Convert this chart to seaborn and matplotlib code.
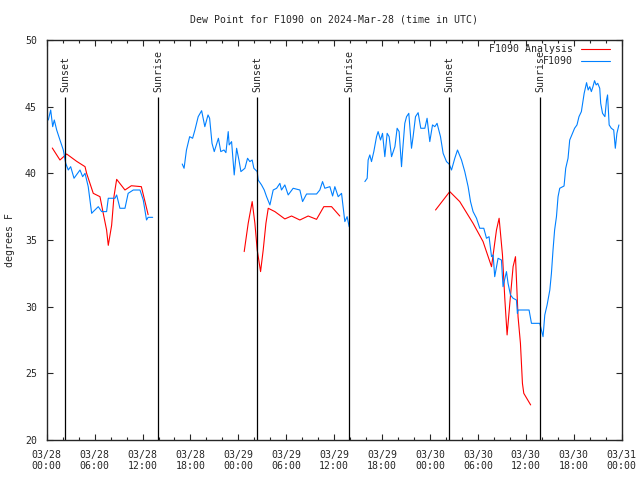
import matplotlib
matplotlib.use('Agg')
import matplotlib.pyplot as plt
import pandas as pd
import seaborn as sns
from matplotlib.lines import Line2D
from matplotlib.ticker import MultipleLocator

# hours since 2024-03-28 00:00 UTC
obs_h1 = [0.2, 0.5, 0.75, 0.95, 1.25, 1.66, 2.08, 2.38, 2.7, 3.0, 3.42, 4.17, 4.5, 4.8, 5.2,
          5.63, 5.83, 6.46, 6.88, 7.5, 7.71, 8.55, 8.76, 9.17, 9.8, 10.2, 10.84, 11.68, 12.09,
          12.5, 12.7, 13.27]
obs_v1 = [44.0, 44.75, 43.5, 44.0, 43.25, 42.5, 41.75, 40.75, 40.25, 40.5, 39.63, 40.25, 39.75,
          40.0, 39.0, 37.0, 37.13, 37.5, 37.13, 37.13, 38.13, 38.13, 38.38, 37.38, 37.38, 38.5,
          38.75, 38.75, 38.0, 36.5, 36.7, 36.7]

obs_h2 = [16.97, 17.2, 17.5, 17.9, 18.27, 18.56, 18.97, 19.4, 19.8, 20.2, 20.4, 20.7, 20.98, 21.5,
          21.8, 22.2, 22.44, 22.73, 22.85, 23.15, 23.48, 23.78, 24.07, 24.32, 24.82, 25.15, 25.44,
          25.73, 25.94, 26.36, 26.48, 26.9, 27.24, 27.53, 27.95, 28.36, 28.79, 29.2, 29.4, 29.82,
          30.24, 30.86, 31.7, 32.04, 32.54, 33.79, 34.2, 34.54, 34.83, 35.46, 35.8, 36.08, 36.5,
          36.92, 37.33, 37.62, 37.87]
obs_v2 = [40.7, 40.38, 41.75, 42.75, 42.63, 43.25, 44.25, 44.7, 43.5, 44.38, 44.13, 42.25, 41.63,
          42.63, 41.63, 41.75, 41.55, 43.13, 42.13, 42.38, 39.88, 41.88, 41.0, 40.13, 40.38, 41.13,
          40.88, 41.0, 40.38, 40.13, 39.5, 39.13, 38.75, 38.25, 37.63, 38.75, 38.88, 39.25, 38.75,
          39.13, 38.38, 38.88, 38.75, 37.88, 38.45, 38.45, 38.75, 39.38, 38.88, 39.0, 38.3, 39.0,
          38.25, 38.5, 36.38, 36.75, 36.0]

obs_h3 = [39.84, 40.13, 40.25, 40.46, 40.67, 40.96, 41.3, 41.5, 41.8, 42.05, 42.34, 42.63, 42.88,
          43.18, 43.6, 43.88, 44.13, 44.43, 44.56, 44.84, 45.06, 45.34, 45.68, 45.88, 46.18, 46.51,
          46.84, 47.35, 47.63, 47.97, 48.31, 48.6, 48.88, 49.31, 49.64, 50.06, 50.39, 50.69, 51.1,
          51.44, 51.94, 52.35, 52.77, 53.07, 53.39, 53.82, 54.23, 54.73, 55.07, 55.39, 55.7, 55.9,
          56.1, 56.52, 56.94, 57.14, 57.57, 57.77, 58.07, 58.4, 58.82, 58.94, 59.02, 60.4, 60.7,
          61.74, 62.15, 62.37, 62.66, 63.0, 63.2, 63.4, 63.6, 63.83, 64.03, 64.24, 64.78, 64.99,
          65.28, 65.49, 65.7, 66.1, 66.4, 66.65, 66.95, 67.3, 67.6, 67.8, 68.0, 68.2, 68.4, 68.6,
          68.8, 69.0, 69.25, 69.37, 69.6, 69.9, 70.1, 70.23, 70.43, 70.7, 71.0, 71.2, 71.4, 71.65]
obs_v3 = [39.38, 39.63, 41.0, 41.38, 40.88, 41.63, 42.75, 43.13, 42.5, 43.0, 41.25, 43.0, 42.75,
          41.25, 42.0, 43.38, 43.13, 40.5, 41.63, 43.75, 44.25, 44.5, 41.88, 42.75, 44.25, 44.55,
          43.38, 43.38, 44.13, 42.38, 43.63, 43.5, 43.75, 42.75, 41.5, 40.88, 40.7, 40.25, 41.13,
          41.75, 41.0, 40.13, 39.0, 37.88, 37.13, 36.63, 35.88, 35.88, 35.13, 35.25, 33.75, 33.88,
          32.25, 33.63, 33.5, 31.5, 32.63, 31.75, 30.88, 30.63, 30.5, 29.5, 29.75, 29.75, 28.75,
          28.75, 27.75, 29.38, 30.13, 31.25, 32.5, 34.25, 35.75, 36.75, 38.25, 38.88, 39.05, 40.38,
          41.13, 42.5, 42.8, 43.38, 43.63, 44.25, 44.63, 46.0, 46.8, 46.25, 46.5, 46.13, 46.5, 46.95,
          46.63, 46.75, 46.38, 45.25, 44.5, 44.25, 45.5, 45.88, 43.63, 43.38, 43.25, 41.88, 43.0,
          43.63]

ana_h1 = [0.7, 1.66, 2.5, 3.75, 4.8, 5.0, 5.83, 6.67, 7.08, 7.5, 7.71, 8.13, 8.42, 8.76, 9.8,
          10.6, 11.85, 12.3, 12.7]
ana_v1 = [41.9, 41.0, 41.45, 40.9, 40.5, 40.0, 38.5, 38.25, 37.0, 35.75, 34.6, 36.1, 38.25, 39.55,
          38.75, 39.07, 39.0, 37.9, 36.9]

ana_h2 = [24.73, 25.23, 25.73, 26.07, 26.36, 26.78, 27.11, 27.45, 27.74, 28.57, 29.82, 30.66, 31.7,
          32.74, 33.79, 34.7, 35.67, 36.7]
ana_v2 = [34.13, 36.25, 37.88, 36.25, 34.25, 32.63, 34.25, 36.25, 37.38, 37.13, 36.58, 36.8, 36.5,
          36.8, 36.55, 37.5, 37.5, 36.8]

ana_h3 = [48.69, 50.47, 51.72, 53.39, 54.64, 55.7, 56.32, 56.65, 57.07, 57.36, 57.65, 57.99, 58.4,
          58.7, 59.02, 59.32, 59.57, 59.74, 60.6]
ana_v3 = [37.25, 38.63, 37.88, 36.25, 34.88, 33.0, 35.75, 36.63, 33.88, 30.63, 27.88, 30.25, 33.0,
          33.75, 29.25, 27.25, 24.25, 23.5, 22.63]

sun_h = [2.29, 13.93, 26.36, 37.87, 50.4, 61.77]
sun_lbl = ['Sunset', 'Sunrise', 'Sunset', 'Sunrise', 'Sunset', 'Sunrise']

RED = '#ff0000'
BLUE = '#0080ff'
FS = 7.1


def frame(hs, vs):
    rows = []
    for i, (h, v) in enumerate(zip(hs, vs)):
        for a, b in zip(h, v):
            rows.append({'h': a, 'v': b, 'seg': i})
    return pd.DataFrame(rows)


obs = frame([obs_h1, obs_h2, obs_h3], [obs_v1, obs_v2, obs_v3])
ana = frame([ana_h1, ana_h2, ana_h3], [ana_v1, ana_v2, ana_v3])

sns.set_style('ticks')
plt.rcParams['font.family'] = ['DejaVu Sans Mono']
plt.rcParams['font.size'] = FS

fig = plt.figure(figsize=(6.4, 4.8), dpi=100)
ax = fig.add_axes([46.7 / 640, 40 / 480, 575 / 640, 400 / 480])

sns.lineplot(data=ana, x='h', y='v', units='seg', estimator=None, color=RED, lw=0.8, ax=ax)
sns.lineplot(data=obs, x='h', y='v', units='seg', estimator=None, color=BLUE, lw=0.8, ax=ax)

for h, lbl in zip(sun_h, sun_lbl):
    ax.vlines(h, 20, 45.72, color='black', lw=0.9)
    ax.text(h, 46.1, lbl, rotation=90, ha='center', va='bottom', fontsize=FS)

ax.set_xlim(0, 72)
ax.set_ylim(20, 50)
xt = list(range(0, 73, 6))
ax.set_xticks(xt)
ax.set_xticklabels(['03/%02d\n%02d:00' % (28 + t // 24, t % 24) for t in xt])
ax.xaxis.set_minor_locator(MultipleLocator(2))
ax.set_yticks(range(20, 51, 5))
ax.tick_params(which='both', direction='in', top=True, right=True, width=0.8, labelsize=FS)
ax.tick_params(which='major', length=4.5)
ax.tick_params(which='minor', length=2.5)
ax.tick_params(axis='x', pad=7)
ax.tick_params(axis='y', pad=7)
for s in ax.spines.values():
    s.set_linewidth(1)
ax.set_xlabel('')
ax.set_ylabel('degrees F', fontsize=FS, labelpad=7)
ax.set_title('Dew Point for F1090 on 2024-Mar-28 (time in UTC)', fontsize=FS, pad=12.5)

handles = [Line2D([], [], color=RED, lw=0.8), Line2D([], [], color=BLUE, lw=0.8)]
ax.legend(handles, ['F1090 Analysis', 'F1090'], loc='upper right',
          bbox_to_anchor=((610 - 46.7) / 575, 0.99), frameon=False, markerfirst=False,
          borderaxespad=0, borderpad=0, handlelength=2.9, handletextpad=0.9,
          labelspacing=0.25, fontsize=FS)

fig.savefig('out.png', dpi=100)
